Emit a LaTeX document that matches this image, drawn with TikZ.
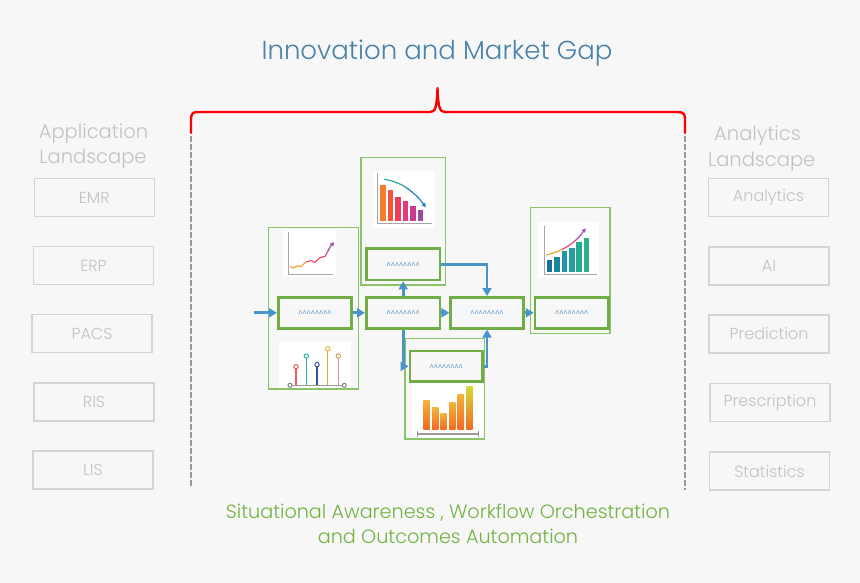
\documentclass[tikz,border=0pt]{standalone}
\usepackage{fontspec}
\setmainfont{Poppins}[UprightFont=* Light]
\newfontfamily\symfont{DejaVu Sans}
\usetikzlibrary{arrows.meta}
\definecolor{bgc}{HTML}{F7F7F7}
\definecolor{titleblue}{HTML}{4A82AA}
\definecolor{txtgray}{HTML}{C2C2C2}
\definecolor{boxgray}{HTML}{D4D4D4}
\definecolor{gtext}{HTML}{74B244}
\definecolor{gbox}{HTML}{70AD47}
\definecolor{gbox2}{HTML}{8CC26A}
\definecolor{flowblue}{HTML}{4A94CC}
\definecolor{symblue}{HTML}{6A9FD0}
\definecolor{dashgray}{HTML}{9A9A9A}
\begin{document}
\begin{tikzpicture}[x=1pt,y=-1pt,
  appbox/.style={draw=boxgray,line width=1.5pt,minimum width=120pt,minimum height=38pt,text=txtgray,font=\fontsize{16}{16}\selectfont,inner sep=0pt},
  headtxt/.style={text=txtgray,font=\fontsize{19.5}{19.5}\selectfont,anchor=base,inner sep=0pt},
  outerbox/.style={draw=gbox2,line width=1.3pt,inner sep=0pt},
  innerbox/.style={draw=gbox,line width=2.6pt,inner sep=0pt,minimum height=31pt,text=symblue,font=\symfont\fontsize{7}{7}\selectfont},
  flow/.style={draw=flowblue,line width=2.8pt,-{Triangle[length=8pt,width=9pt]}},
  chartbg/.style={fill=white}]
\useasboundingbox[fill=bgc] (0,0) rectangle (860,583);

% title and brace
\node[text=titleblue,font=\fontsize{26}{26}\selectfont,anchor=base,inner sep=0pt] (title) at (437,59.5) {Innovation and Market Gap};
\draw[red,line width=2.4pt,line cap=round,line join=round] (191,133) -- (191,120) .. controls (191,113) and (193,112) .. (199,112) -- (430,112) .. controls (435,112) and (437,108) .. (437.5,88) .. controls (438,108) and (440,112) .. (445,112) -- (677,112) .. controls (683,112) and (685,113) .. (685,120) -- (685,133);
\draw[dashgray,line width=2pt,dash pattern=on 6pt off 2pt] (191,136) -- (191,487);
\draw[dashgray,line width=2pt,dash pattern=on 6pt off 2pt] (685,136) -- (685,490);

% left landscape
\node[headtxt] (apph1) at (93.5,138.3) {Application};
\node[headtxt] (apph2) at (93,163.3) {Landscape};
\node[appbox] (emr) at (94.3,197.5) {EMR};
\node[appbox] (erp) at (93.5,265.5) {ERP};
\node[appbox] (pacs) at (92,333.5) {PACS};
\node[appbox] (ris) at (94,402) {RIS};
\node[appbox] (lis) at (93,470) {LIS};

% right landscape
\node[headtxt] (anh1) at (757.5,140.7) {Analytics};
\node[headtxt] (anh2) at (761.7,166.7) {Landscape};
\node[appbox] (ana) at (768.5,197.5) {Analytics};
\node[appbox] (ai) at (769,266) {AI};
\node[appbox] (pred) at (769,334) {Prediction};
\node[appbox] (pres) at (770,402.5) {Prescription};
\node[appbox] (stat) at (769.5,471.2) {Statistics};

% bottom text
\node[text=gtext,font=\fontsize{19.2}{19.2}\selectfont,anchor=base,inner sep=0pt] (bt1) at (448,518.3) {Situational Awareness , Workflow Orchestration};
\node[text=gtext,font=\fontsize{19.2}{19.2}\selectfont,anchor=base,inner sep=0pt] (bt2) at (448,543.3) {and Outcomes Automation};

% chart backgrounds
\fill[chartbg] (372.7,170.7) rectangle (434.3,228.3);
\fill[chartbg] (283.3,229.3) rectangle (336,276.7);
\fill[chartbg] (279.3,341) rectangle (350.7,392.3);
\fill[chartbg] (411.7,381.7) rectangle (482.7,439);
\fill[chartbg] (538.3,222.3) rectangle (599.3,277.7);

% outer column boxes
\node[outerbox,minimum width=90pt,minimum height=161.7pt] (colL) at (313.3,308.2) {};
\node[outerbox,minimum width=84.7pt,minimum height=127.7pt] (colT) at (403.3,221.2) {};
\node[outerbox,minimum width=79.3pt,minimum height=100.7pt] (colB) at (444.7,388.7) {};
\node[outerbox,minimum width=79.3pt,minimum height=126pt] (colR) at (570.3,270.3) {};

% top chart: decreasing bars
\draw[gray!70,line width=1pt] (377,173) -- (377,223.3) -- (431.7,223.3);
\foreach \x/\t/\c in {380/185/F57C2A,387.5/190/F4533F,395/197.3/EE3D5C,402.5/200.7/E23C7A,410/205.7/C83A8F,417.5/210/9B4AA0}{
  \definecolor{barc}{HTML}{\c}
  \fill[barc] (\x,\t) rectangle ++(5.7,220.7-\t);
}
\definecolor{tealc}{HTML}{2AA89A}
\definecolor{arrblue}{HTML}{1E7BC8}
\draw[tealc,line width=1.2pt] (384.3,179.3) .. controls (392,180.5) and (400,183.5) .. (406,187.5);
\draw[arrblue,line width=1.2pt,-{Triangle[length=4pt,width=4pt]}] (406,187.5) .. controls (414,193) and (420,199) .. (425.7,207.3);

% left line chart
\draw[gray!70,line width=1pt] (288,231.7) -- (288,274) -- (333.3,274);
\definecolor{lc1}{HTML}{F7A23A}
\definecolor{lc2}{HTML}{EF5B6B}
\definecolor{lc3}{HTML}{D94A8A}
\definecolor{lc4}{HTML}{9C4DA8}
\draw[lc1,line width=1.2pt,line join=round] (290,266.7) -- (293,268) -- (297,266) -- (301,266.5) -- (306,262);
\draw[lc2,line width=1.2pt,line join=round] (306,262) -- (311,260.5) -- (315,262.5) -- (320,257.5);
\draw[lc3,line width=1.2pt,line join=round] (320,257.5) -- (325,256.5) -- (328,251);
\draw[lc4,line width=1.2pt,line join=round,-{Triangle[length=4pt,width=4pt]}] (328,251) -- (330,247) -- (334,242);

% lollipop chart
\draw[gray!80,line width=1.2pt] (290,385.3) -- (344.3,385.3);
\foreach \x/\t/\c/\k in {296/366.7/F0595A/F0595A,306.3/356/2BB39B/2BB39B,317/364.7/3050A0/3050A0,327.7/348.7/F2A23A/E6C03A,338.3/356/EE8AA8/C8A050}{
  \definecolor{stc}{HTML}{\c}
  \definecolor{ckc}{HTML}{\k}
  \draw[stc,line width=1.2pt] (\x,385.3) -- (\x,\t);
  \draw[ckc,line width=1pt,fill=white] (\x,\t) circle (2.2pt);
}
\draw[gray,line width=1pt,fill=white] (290,385.3) circle (2pt);
\draw[gray,line width=1pt,fill=white] (344.3,385.3) circle (2pt);

% lower chart
\definecolor{ytop}{HTML}{F2B33A}
\definecolor{obot}{HTML}{F26A22}
\definecolor{ygreen}{HTML}{D6DA3A}
\foreach \x/\t in {423.3/400,432/407.3,440.3/413.3,449/402.7,457.7/394}{
  \shade[top color=ytop,bottom color=obot] (\x,\t) rectangle ++(6.3,429.3-\t);
}
\shade[top color=ygreen,bottom color=obot] (466.3,386) rectangle ++(6.3,43.3);
\draw[gray!80,line width=1.2pt] (417.7,434) -- (478.3,434);
\draw[gray!80,line width=1.2pt] (417.7,431) -- (417.7,437);
\draw[gray!80,line width=1.2pt] (478.3,431) -- (478.3,437);

% right chart
\draw[gray!70,line width=1pt] (544,226) -- (544,274) -- (596.7,274);
\foreach \x/\t/\c in {546.7/260/1A6FA0,554.3/257.3/1A85A0,561.7/251/1E96A0,569/247.7/22A09A,576.3/242.3/26A892,583.7/237.7/2BB08A}{
  \definecolor{barc}{HTML}{\c}
  \fill[barc] (\x,\t) rectangle ++(5.7,271.7-\t);
}
\definecolor{rc1}{HTML}{F5A623}
\definecolor{rc2}{HTML}{E0457B}
\definecolor{rc3}{HTML}{9C4DCC}
\draw[rc1,line width=1.2pt] (546,255) .. controls (552,253.5) and (557,252) .. (562,249.5);
\draw[rc2,line width=1.2pt] (562,249.5) .. controls (568,246.5) and (573,243) .. (577,239);
\draw[rc3,line width=1.2pt,-{Triangle[length=4pt,width=4pt]}] (577,239) .. controls (580.5,235.5) and (583,232) .. (585.7,228.3);

% inner process boxes
\node[innerbox,minimum width=73.4pt] (b1) at (315,312.8) {ʌʌʌʌʌʌʌʌ};
\node[innerbox,minimum width=73.7pt] (b2) at (403.2,312.8) {ʌʌʌʌʌʌʌʌ};
\node[innerbox,minimum width=73.7pt,minimum height=31.7pt] (bT) at (403.2,264.2) {ʌʌʌʌʌʌʌʌ};
\node[innerbox,minimum width=72.7pt,minimum height=30.7pt] (bB) at (446.3,366.3) {ʌʌʌʌʌʌʌʌ};
\node[innerbox,minimum width=72.6pt] (b3) at (487,312.8) {ʌʌʌʌʌʌʌʌ};
\node[innerbox,minimum width=73.3pt] (b4) at (571.7,312.8) {ʌʌʌʌʌʌʌʌ};

% connectors
\coordinate (in) at (254,312.8);
\draw[flow] (in) -- (b1.west);
\draw[flow] (b1.east) -- (b2.west);
\draw[flow] (b2.north) -- (bT.south);
\draw[flow] (b2.east) -- (b3.west);
\draw[flow] (bT.east) -| (b3.north);
\draw[flow] (b2.south) |- (bB.west);
\draw[flow] (bB.east) -| (b3.south);
\draw[flow] (b3.east) -- (b4.west);
\end{tikzpicture}
\end{document}
